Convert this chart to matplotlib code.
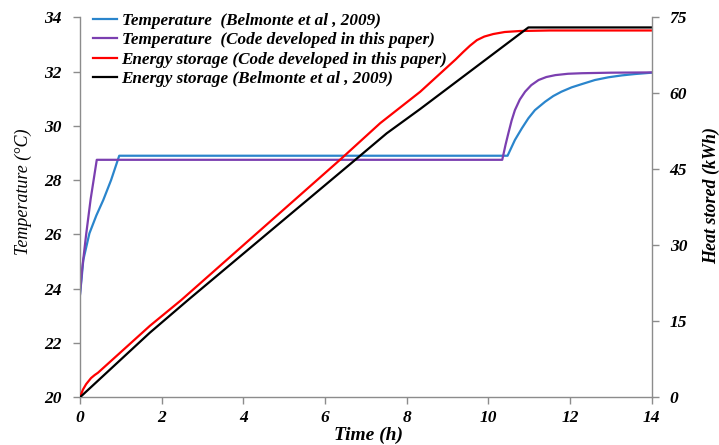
import matplotlib
matplotlib.use("Agg")
import matplotlib.pyplot as plt
from matplotlib.font_manager import FontProperties

# Temperature series (°C) vs time (h)
time_temp_ref = [0, 0.04, 0.08, 0.23, 0.40, 0.57, 0.76, 0.96, 10.47, 10.65, 10.82, 10.98,
                 11.14, 11.39, 11.59, 11.79, 12.04, 12.29, 12.61, 12.94, 13.27, 13.59, 14]
temp_ref = [23.8, 24.4, 25.06, 26.04, 26.7, 27.27, 28.0, 28.9, 28.9, 29.48, 29.91, 30.28,
            30.58, 30.89, 31.1, 31.26, 31.42, 31.54, 31.69, 31.79, 31.86, 31.91, 31.96]

time_temp_code = [0, 0.05, 0.15, 0.26, 0.41, 10.34, 10.42, 10.49, 10.57, 10.65, 10.77,
                  10.90, 11.05, 11.23, 11.42, 11.64, 11.95, 12.29, 13.0, 14]
temp_code = [23.8, 24.7, 26.0, 27.3, 28.75, 28.75, 29.3, 29.73, 30.2, 30.58, 30.97,
             31.26, 31.5, 31.69, 31.8, 31.87, 31.92, 31.94, 31.96, 31.97]

# Heat stored (kWh) vs time (h)
time_energy_code = [0, 0.07, 0.15, 0.27, 0.36, 0.44, 1.71, 2.48, 6.37, 7.35, 8.33, 9.2,
                    9.39, 9.55, 9.72, 9.9, 10.12, 10.4, 10.78, 11.5, 14]
energy_code = [0, 1.5, 2.6, 3.8, 4.4, 4.85, 14.1, 19.2, 46.9, 54.1, 60.3, 66.7,
               68.2, 69.4, 70.5, 71.2, 71.7, 72.1, 72.3, 72.4, 72.4]

time_energy_ref = [0, 1.71, 2.645, 6.73, 7.51, 8.33, 10.98, 14]
energy_ref = [0, 12.75, 19.2, 46.8, 52.1, 56.9, 73.0, 73.0]

labels = ["Temperature  (Belmonte et al , 2009)",
          "Temperature  (Code developed in this paper)",
          "Energy storage (Code developed in this paper)",
          "Energy storage (Belmonte et al , 2009)"]
colors = ["#2a85cc", "#7b3fb0", "#ff0000", "#000000"]

x_ticks = [0, 2, 4, 6, 8, 10, 12, 14]
temp_ticks = [20, 22, 24, 26, 28, 30, 32, 34]
energy_ticks = [0, 15, 30, 45, 60, 75]

serif = "Liberation Serif"
tick_font = FontProperties(family=serif, weight="bold", style="italic", size=12.5)

fig = plt.figure(figsize=(7.19, 4.45), dpi=100)
ax = fig.add_axes([0.1113, 0.1072, 0.7951, 0.8539])
ax2 = ax.twinx()

lw = 1.6
h1, = ax.plot(time_temp_ref, temp_ref, color=colors[0], lw=lw)
h2, = ax.plot(time_temp_code, temp_code, color=colors[1], lw=lw)
h3, = ax2.plot(time_energy_code, energy_code, color=colors[2], lw=lw)
h4, = ax2.plot(time_energy_ref, energy_ref, color=colors[3], lw=lw)

ax.set_xlim(0, 14)
ax.set_ylim(20, 34)
ax2.set_ylim(0, 75)
ax.set_xticks(x_ticks)
ax.set_yticks(temp_ticks)
ax2.set_yticks(energy_ticks)

spine_color = "#8c8c8c"
for a in (ax, ax2):
    for side, sp in a.spines.items():
        sp.set_color(spine_color)
        sp.set_linewidth(1.0)
    a.spines["top"].set_visible(False)
ax.spines["right"].set_visible(False)
ax2.spines["left"].set_visible(False)
ax2.spines["bottom"].set_visible(False)

ax.tick_params(axis="x", direction="out", length=5, width=1, color=spine_color, pad=4)
ax.tick_params(axis="y", direction="out", length=5, width=1, color=spine_color, pad=8)
ax2.tick_params(axis="y", direction="out", length=5, width=1, color=spine_color, pad=8)

for lab in ax.get_xticklabels() + ax.get_yticklabels() + ax2.get_yticklabels():
    lab.set_fontproperties(tick_font)

ax.set_xlabel("Time (h)", fontproperties=FontProperties(family=serif, weight="bold",
                                                         style="italic", size=14))
ax.xaxis.set_label_coords(0.505, -0.0765)
ax.set_ylabel("Temperature (°C)", fontproperties=FontProperties(family=serif,
                                                                style="italic", size=13))
ax.yaxis.set_label_coords(-0.084, 0.54)
ax2.set_ylabel("Heat stored (kWh)", fontproperties=FontProperties(family=serif, weight="bold",
                                                                  style="italic", size=13),
               rotation=90)
ax2.yaxis.set_label_coords(1.089, 0.53)

leg = ax.legend([h1, h2, h3, h4], labels, loc="upper left",
                bbox_to_anchor=(0.01, 1.03), frameon=False,
                prop=FontProperties(family=serif, weight="bold", style="italic", size=12.3),
                handlelength=1.45, handletextpad=0.25, labelspacing=0.2, borderaxespad=0)

fig.savefig("out.png", dpi=100)
